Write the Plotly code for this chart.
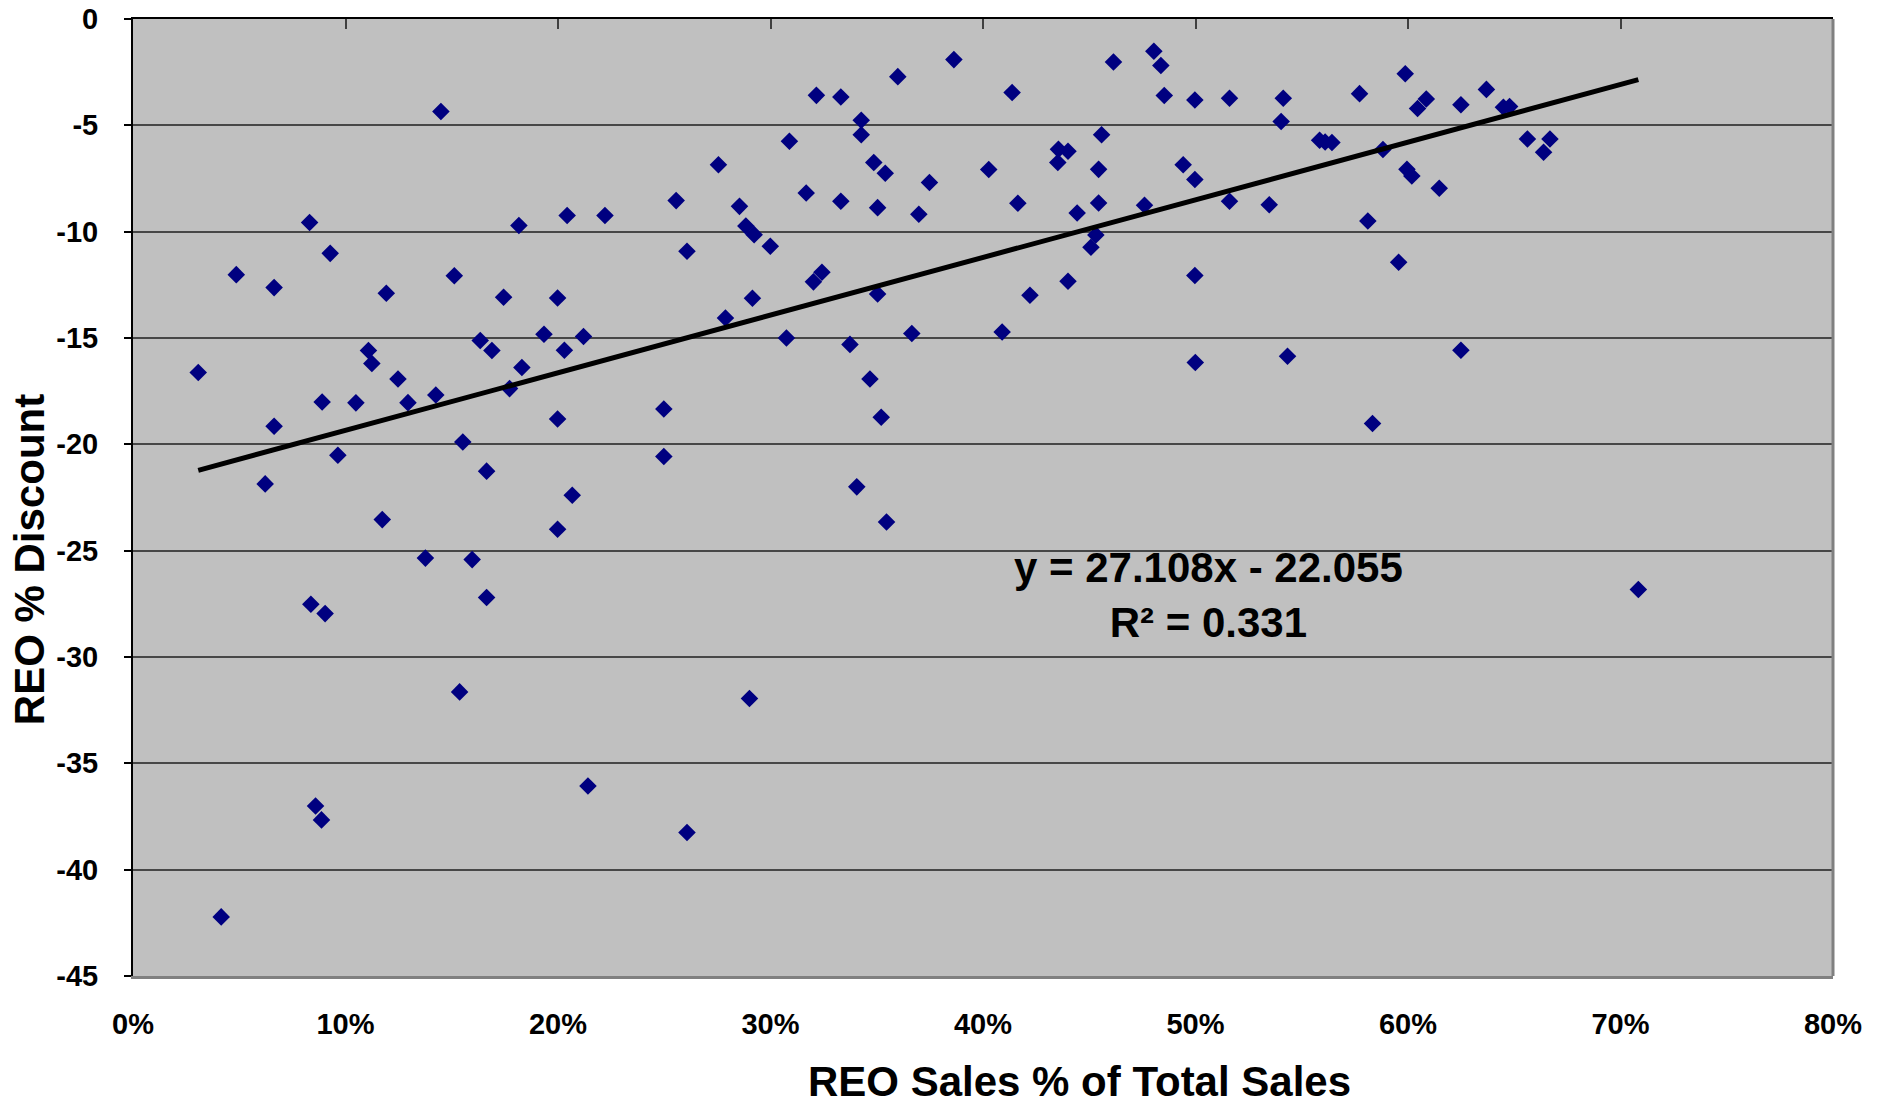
import plotly.graph_objects as go

# REO sales as a share of total sales (fraction) for each market
reo_share = [
    0.0307, 0.0415, 0.0486, 0.0622, 0.0664, 0.0664, 0.0831, 0.0837, 0.0859, 0.0887,
    0.0890, 0.0904, 0.0928, 0.0964, 0.1049, 0.1108, 0.1124, 0.1173, 0.1192, 0.1247,
    0.1294, 0.1376, 0.1425, 0.1449, 0.1512, 0.1537, 0.1552, 0.1596, 0.1634, 0.1664,
    0.1664, 0.1689, 0.1744, 0.1772, 0.1816, 0.1830, 0.1934, 0.1998, 0.1998, 0.1998,
    0.2030, 0.2043, 0.2067, 0.2120, 0.2141, 0.2221, 0.2498, 0.2498, 0.2556, 0.2607,
    0.2607, 0.2755, 0.2788, 0.2854, 0.2884, 0.2901, 0.2915, 0.2923, 0.2999, 0.3075,
    0.3089, 0.3168, 0.3202, 0.3216, 0.3242, 0.3331, 0.3331, 0.3374, 0.3406, 0.3427,
    0.3427, 0.3468, 0.3486, 0.3504, 0.3504, 0.3521, 0.3540, 0.3546, 0.3599, 0.3665,
    0.3698, 0.3748, 0.3863, 0.4027, 0.4090, 0.4137, 0.4164, 0.4221, 0.4352, 0.4355,
    0.4400, 0.4400, 0.4443, 0.4508, 0.4531, 0.4544, 0.4544, 0.4558, 0.4614, 0.4760,
    0.4804, 0.4837, 0.4853, 0.4942, 0.4997, 0.4997, 0.4997, 0.4999, 0.5160, 0.5160,
    0.5347, 0.5403, 0.5413, 0.5433, 0.5584, 0.5610, 0.5642, 0.5772, 0.5811, 0.5833,
    0.5882, 0.5956, 0.5987, 0.5995, 0.6018, 0.6045, 0.6086, 0.6147, 0.6249, 0.6249,
    0.6369, 0.6449, 0.6478, 0.6562, 0.6638, 0.6668, 0.7084,
]

# REO price discount (%) for the same markets
reo_discount = [
    -16.62, -42.22, -12.02, -21.86, -12.63, -19.15, -9.57, -27.52, -37.01, -37.66,
    -18.01, -27.96, -11.02, -20.51, -18.05, -15.59, -16.20, -23.54, -12.90, -16.93,
    -18.04, -25.35, -17.68, -4.35, -12.07, -31.64, -19.89, -25.42, -15.12, -21.26,
    -27.20, -15.59, -13.08, -17.38, -9.71, -16.39, -14.82, -13.12, -18.81, -23.99,
    -15.58, -9.24, -22.39, -14.93, -36.07, -9.24, -18.34, -20.57, -8.54, -10.92,
    -38.25, -6.85, -14.06, -8.81, -9.73, -31.95, -13.13, -10.14, -10.69, -15.00,
    -5.75, -8.18, -12.36, -3.59, -11.91, -3.67, -8.57, -15.30, -22.00, -4.76,
    -5.44, -16.93, -6.75, -8.87, -12.93, -18.73, -7.25, -23.65, -2.71, -14.79,
    -9.18, -7.69, -1.91, -7.08, -14.72, -3.46, -8.66, -12.99, -6.75, -6.13,
    -6.22, -12.33, -9.12, -10.73, -10.16, -7.07, -8.65, -5.44, -2.02, -8.76,
    -1.52, -2.19, -3.60, -6.85, -3.81, -7.55, -12.06, -16.15, -3.73, -8.57,
    -8.73, -4.82, -3.73, -15.86, -5.70, -5.78, -5.81, -3.51, -9.50, -19.02,
    -6.14, -11.44, -2.57, -7.07, -7.38, -4.21, -3.76, -7.96, -4.03, -15.58,
    -3.31, -4.15, -4.12, -5.64, -6.27, -5.64, -26.83,
]

# Linear trend: y = slope * x + intercept
trend_slope = 27.108
trend_intercept = -22.055
trend_r2 = 0.331

x_ticks = [0, 0.1, 0.2, 0.3, 0.4, 0.5, 0.6, 0.7, 0.8]
x_tick_labels = ["0%", "10%", "20%", "30%", "40%", "50%", "60%", "70%", "80%"]
y_ticks = [0, -5, -10, -15, -20, -25, -30, -35, -40, -45]
y_tick_labels = [str(v) for v in y_ticks]

x_title = "REO Sales % of Total Sales"
y_title = "REO % Discount"

FONT = "Arial, Liberation Sans, sans-serif"

trend_x = [min(reo_share), max(reo_share)]
trend_y = [trend_slope * v + trend_intercept for v in trend_x]

fig = go.Figure()

fig.add_trace(go.Scatter(
    x=reo_share, y=reo_discount, mode="markers",
    marker=dict(symbol="diamond", size=13.5, color="#000080", line=dict(width=0)),
    showlegend=False, hoverinfo="x+y",
))

fig.add_trace(go.Scatter(
    x=trend_x, y=trend_y, mode="lines",
    line=dict(color="black", width=5),
    showlegend=False, hoverinfo="skip",
))

# carrier for the top axis (tick marks along the zero line)
fig.add_trace(go.Scatter(x=[None], y=[None], xaxis="x2", yaxis="y",
                         showlegend=False, hoverinfo="skip"))

# trendline equation
fig.add_annotation(
    x=0.506, y=-27.1, xref="x", yref="y",
    text=f"y = {trend_slope}x - {abs(trend_intercept)}<br>R\u00b2 = {trend_r2}",
    showarrow=False, align="center",
    font=dict(family=FONT, size=42, color="black", weight="bold"),
)

# horizontal axis title, set a little right of the plot centre
fig.add_annotation(
    x=0.557, y=0, xref="paper", yref="paper", yshift=-105,
    xanchor="center", yanchor="middle", showarrow=False, borderpad=0,
    text=x_title,
    font=dict(family=FONT, size=42, color="black", weight="bold"),
)

# vertical axis title, set a little below the plot centre
fig.add_annotation(
    x=0, y=0.4345, xref="paper", yref="paper", xshift=-104,
    xanchor="center", yanchor="middle", showarrow=False, textangle=-90,
    text=y_title,
    font=dict(family=FONT, size=42, color="black", weight="bold"),
)

# right-hand frame edge
fig.add_shape(type="line", xref="x domain", yref="y domain",
              x0=1, x1=1, y0=0, y1=1, line=dict(color="#808080", width=3))

fig.update_layout(
    width=1888, height=1109,
    margin=dict(l=133, r=55, t=19, b=133),
    paper_bgcolor="white", plot_bgcolor="#C0C0C0",
    font=dict(family=FONT, color="black"),
    xaxis=dict(
        range=[0, 0.8], tickvals=x_ticks, ticktext=x_tick_labels,
        automargin=False,
        showgrid=False, zeroline=False,
        showline=True, linecolor="#808080", linewidth=3,
        ticks="", ticklabelstandoff=20,
        tickfont=dict(family=FONT, size=29, weight="bold"),
    ),
    xaxis2=dict(
        range=[0, 0.8], tickvals=x_ticks, overlaying="x", side="top",
        anchor="y", showticklabels=False, showgrid=False, zeroline=False,
        automargin=False,
        showline=True, linecolor="black", linewidth=2,
        ticks="inside", ticklen=10, tickwidth=1.5, tickcolor="#404040",
    ),
    yaxis=dict(
        range=[-45, 0], tickvals=y_ticks, ticktext=y_tick_labels,
        automargin=False,
        showgrid=True, gridcolor="#474747", gridwidth=1.5, zeroline=False,
        showline=True, linecolor="black", linewidth=2,
        ticks="outside", ticklen=7, tickwidth=1.5, tickcolor="black",
        ticklabelstandoff=20,
        tickfont=dict(family=FONT, size=29, weight="bold"),
    ),
)

fig.write_html("out.html")
